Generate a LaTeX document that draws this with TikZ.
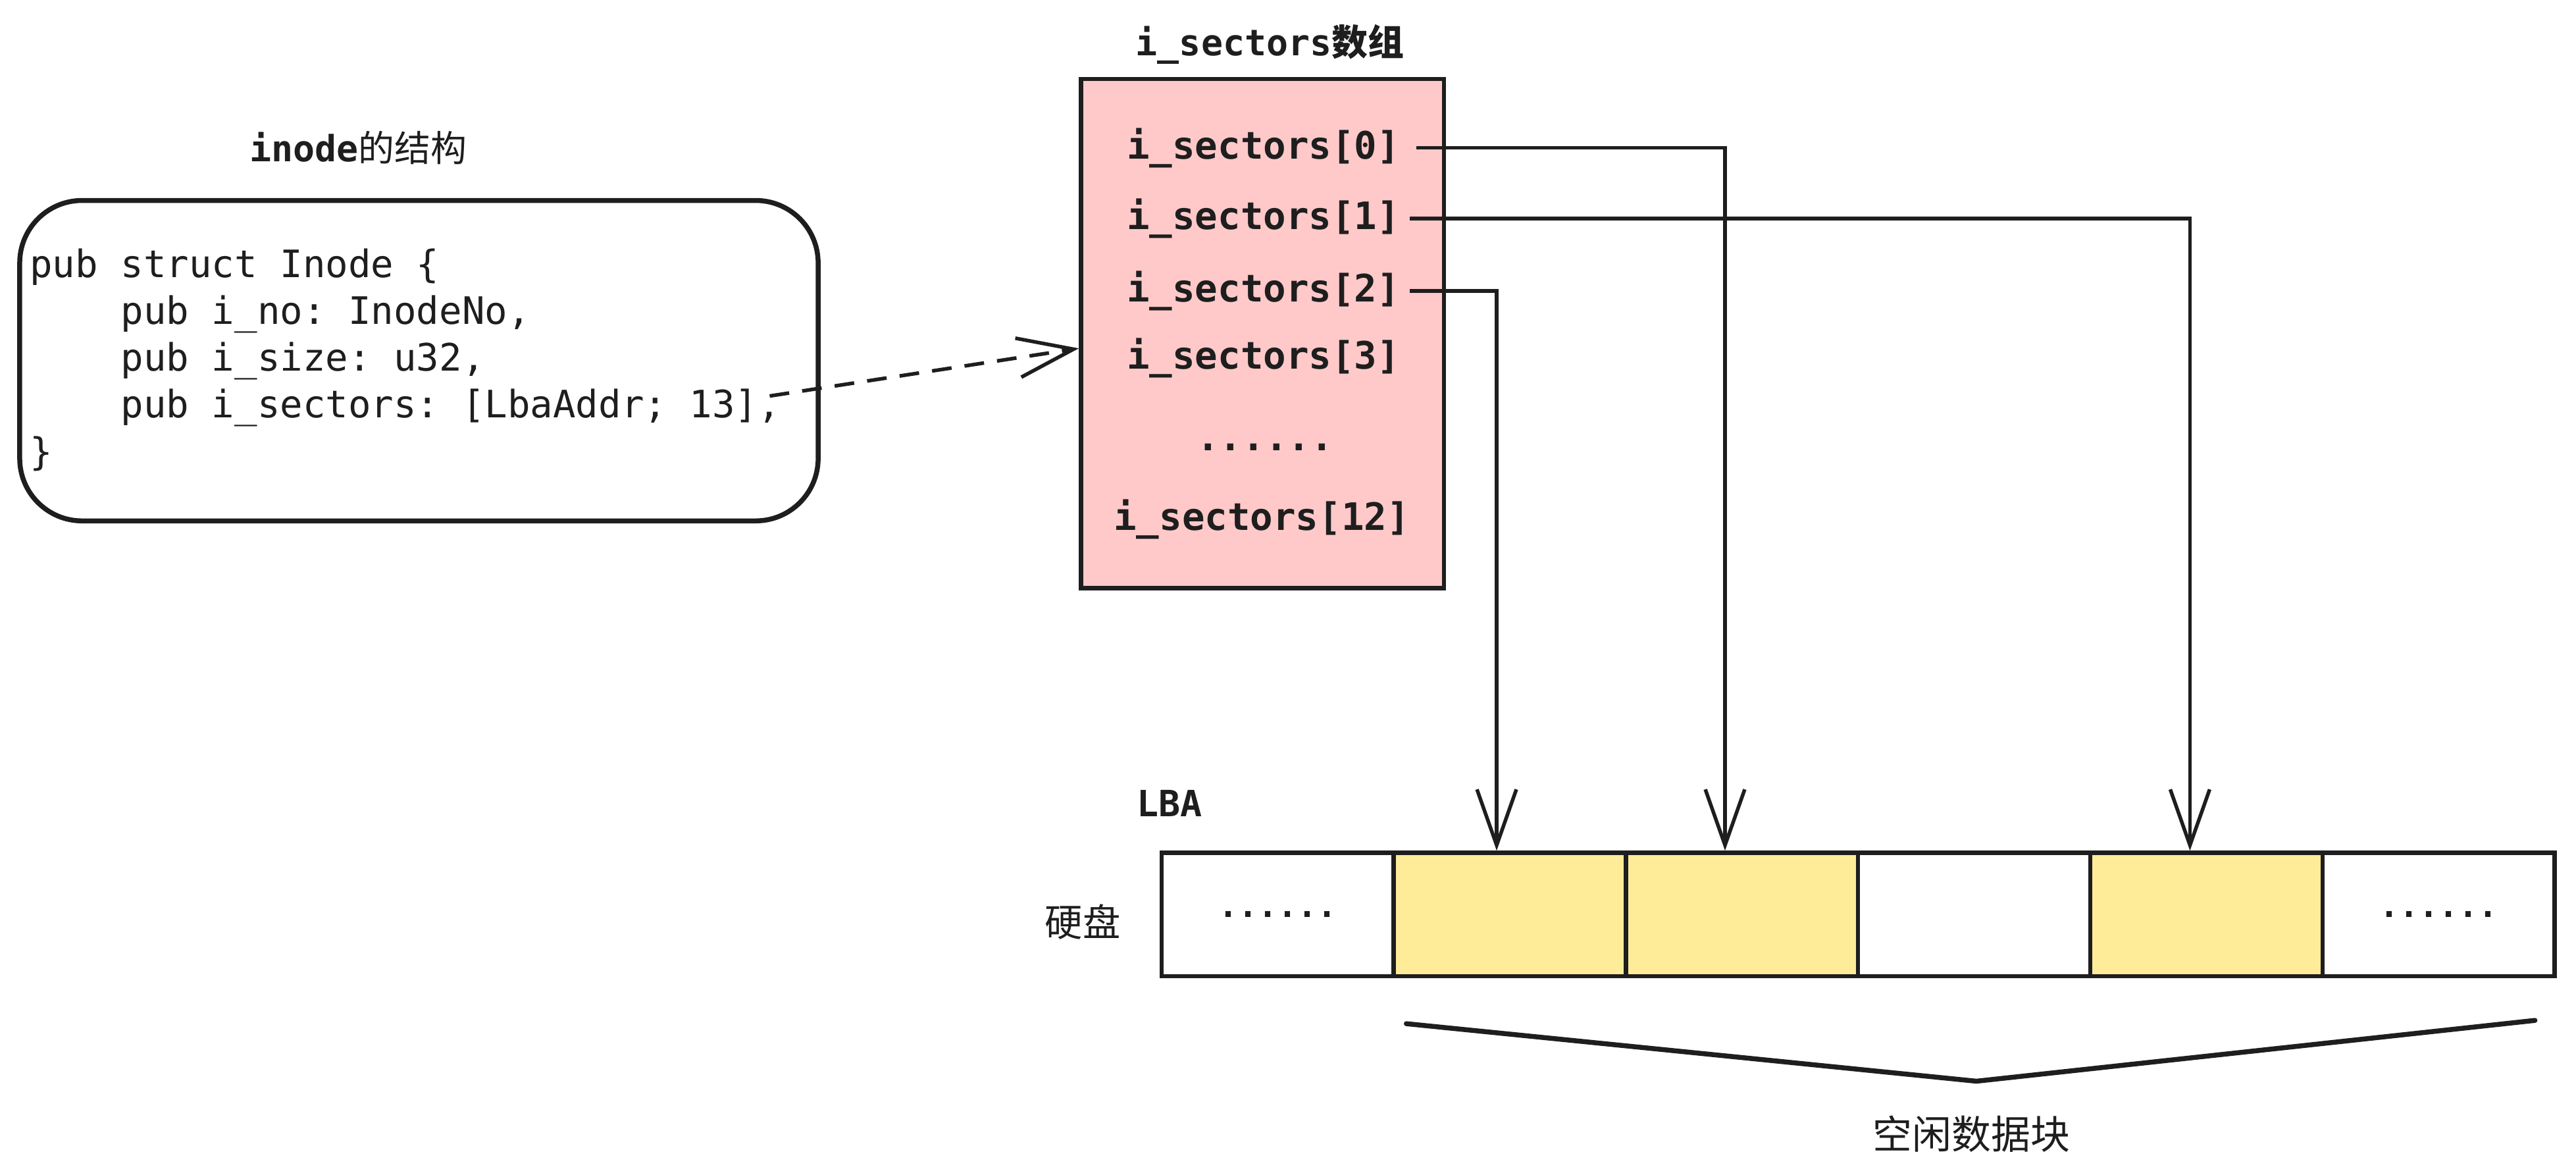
\documentclass[tikz,border=0pt]{standalone}
\usepackage{fontspec}
\setmonofont{DejaVu Sans Mono}
\newfontfamily\cjk{Noto Sans CJK SC}
\usetikzlibrary{arrows.meta}
\definecolor{ink}{HTML}{1E1E1E}
\definecolor{pinkfill}{HTML}{FFC9C9}
\definecolor{yelfill}{HTML}{FFEC99}
\begin{document}
\begin{tikzpicture}[x=1pt,y=-1pt,
  lbl/.style={inner sep=0, text=ink},
  item/.style={inner sep=0, text=ink, font=\fontsize{23}{27}\selectfont\ttfamily\bfseries},
  cell/.style={draw=ink, line width=2.6pt, minimum width=141.33pt, minimum height=75pt, inner sep=0, text=ink, font=\fontsize{20}{24}\selectfont\ttfamily\bfseries},
  arr/.style={draw=ink, line width=2.2pt, -{Straight Barb[length=34pt,width=24pt]}}]
\useasboundingbox (0,0) rectangle (1568,715);
\fill[white] (0,0) rectangle (1568,715);

% inode structure
\node[lbl, font=\fontsize{22}{26}\selectfont\ttfamily\bfseries] (t1) at (218,90) {inode{\cjk\mdseries 的结构}};
\node[draw=ink, line width=3pt, rounded corners=38pt, minimum width=486pt, minimum height=195pt, inner sep=0] (inodebox) at (255,219.5) {};
\node[lbl, anchor=west, align=left, font=\fontsize{23}{28.5}\selectfont\ttfamily] (code) at (18,219)
  {pub struct Inode \{\\
   \hphantom{0000}pub i\_no: InodeNo,\\
   \hphantom{0000}pub i\_size: u32,\\
   \hphantom{0000}pub i\_sectors: [LbaAddr; 13],\\
   \}};

% i_sectors array
\node[lbl, font=\fontsize{22}{26}\selectfont\ttfamily\bfseries] (t2) at (773,27) {i\_sectors{\cjk 数组}};
\node[draw=ink, fill=pinkfill, line width=2.6pt, minimum width=221pt, minimum height=310pt, inner sep=0] (arr) at (768.5,203) {};
\node[item] (s0) at (769,90) {i\_sectors[0]};
\node[item] (s1) at (769,133) {i\_sectors[1]};
\node[item] (s2) at (769,177) {i\_sectors[2]};
\node[item] (s3) at (769,218) {i\_sectors[3]};
\node[item] (sd) at (770,272) {......};
\node[item] (s12) at (768,316) {i\_sectors[12]};

% disk
\node[lbl, font=\fontsize{22}{26}\selectfont\ttfamily\bfseries] (lba) at (712,489) {LBA};
\node[lbl, font=\fontsize{23}{27}\selectfont\cjk] (disk) at (659,561) {硬盘};
\node[cell, fill=white] (b1) at (777.67,556.5) {......};
\node[cell, fill=yelfill] (b2) at (919,556.5) {};
\node[cell, fill=yelfill] (b3) at (1060.33,556.5) {};
\node[cell, fill=white] (b4) at (1201.67,556.5) {};
\node[cell, fill=yelfill] (b5) at (1343,556.5) {};
\node[cell, fill=white] (b6) at (1484.33,556.5) {......};

% connectors
\draw[arr, dash pattern=on 12pt off 8pt] ([xshift=-31pt,yshift=-21.5pt]inodebox.east) -- ([yshift=-9pt]arr.west);
\draw[arr] ([xshift=10pt]s0.east) -| ([xshift=-10.33pt]b3.north);
\draw[arr] ([xshift=6pt]s1.east) -| ([xshift=-10pt]b5.north);
\draw[arr] ([xshift=6pt]s2.east) -| ([xshift=-8pt]b2.north);

% free blocks brace
\coordinate (bl) at (856,623);
\coordinate (bm) at (1203,658);
\coordinate (br) at (1543,621);
\draw[ink, line width=3pt, line join=round, line cap=round] (bl) -- (bm) -- (br);
\node[lbl, font=\fontsize{24}{28}\selectfont\cjk] (free) at (1200,690) {空闲数据块};
\end{tikzpicture}
\end{document}
